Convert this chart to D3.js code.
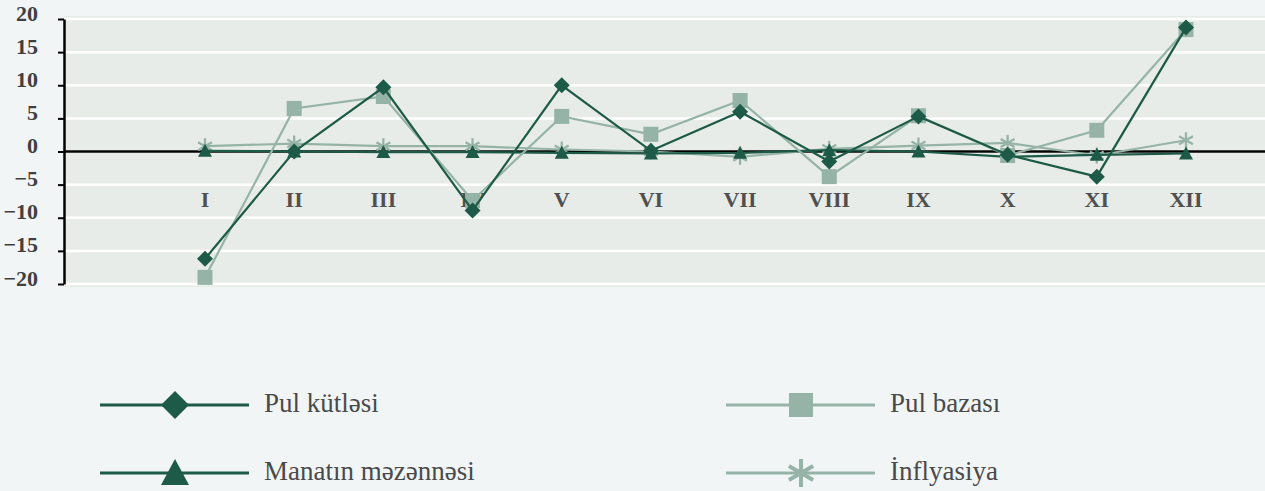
<!DOCTYPE html>
<html>
<head>
<meta charset="utf-8">
<script src="https://cdn.jsdelivr.net/npm/d3@7"></script>
<style>
  body { margin: 0; background: #f2f5f6; }
  svg { display: block; }
</style>
</head>
<body>
<div id="chart"></div>
<script>
// months (roman numerals)
const months = ['I', 'II', 'III', 'IV', 'V', 'VI', 'VII', 'VIII', 'IX', 'X', 'XI', 'XII'];
const yTicks = [-20, -15, -10, -5, 0, 5, 10, 15, 20];

// series values, % change
const pulKutlesi = [-16.2, 0.0, 9.7, -8.9, 10.0, 0.1, 6.0, -1.5, 5.3, -0.5, -3.8, 18.7];
const pulBazasi = [-19.0, 6.5, 8.3, -7.4, 5.3, 2.6, 7.7, -3.8, 5.4, -0.6, 3.2, 18.4];
const manat = [0.1, 0.0, -0.1, -0.1, -0.2, -0.3, -0.2, 0.2, 0.0, -0.8, -0.5, -0.3];
const inflyasiya = [0.8, 1.2, 0.8, 0.8, 0.3, 0.0, -0.8, 0.4, 0.9, 1.3, -0.6, 1.7];

const dark = '#1d5a47';
const light = '#95b3a7';

const series = [
  { name: 'Pul kütləsi', values: pulKutlesi, color: dark, marker: 'diamond' },
  { name: 'Pul bazası', values: pulBazasi, color: light, marker: 'square' },
  { name: 'Manatın məzənnəsi', values: manat, color: dark, marker: 'triangle' },
  { name: 'İnflyasiya', values: inflyasiya, color: light, marker: 'star' }
];

const width = 1265, height = 491;
const plot = { left: 64, right: 1265, top: 16, bottom: 287 };

const svg = d3.select('#chart')
  .append('svg')
  .attr('width', width)
  .attr('height', height);

const x = d3.scalePoint()
  .domain(months)
  .range([205, 1186]);

const y = d3.scaleLinear()
  .domain([-20, 20])
  .range([284, 19]);

// plot background
svg.append('rect')
  .attr('x', plot.left)
  .attr('y', plot.top)
  .attr('width', plot.right - plot.left)
  .attr('height', plot.bottom - plot.top)
  .attr('fill', '#e8ece9');

// gridlines
svg.append('g')
  .selectAll('line')
  .data(yTicks)
  .enter()
  .append('line')
  .attr('x1', plot.left)
  .attr('x2', plot.right)
  .attr('y1', d => y(d))
  .attr('y2', d => y(d))
  .attr('stroke', '#ffffff')
  .attr('stroke-width', 2.5);

// y axis
const yAxis = svg.append('g')
  .attr('transform', `translate(${plot.left},0)`)
  .call(d3.axisLeft(y).tickValues(yTicks).tickSize(6).tickSizeOuter(0).tickPadding(20));
yAxis.select('.domain').attr('stroke', '#000').attr('stroke-width', 2.5);
yAxis.selectAll('.tick line').attr('stroke', '#000').attr('stroke-width', 2);
yAxis.selectAll('.tick text')
  .attr('dy', 1)
  .attr('fill', '#404040')
  .style('font', 'bold 22px "Liberation Serif"');

// zero line
svg.append('line')
  .attr('x1', plot.left)
  .attr('x2', plot.right)
  .attr('y1', y(0))
  .attr('y2', y(0))
  .attr('stroke', '#000')
  .attr('stroke-width', 2.5);

// month labels
svg.append('g')
  .selectAll('text')
  .data(months)
  .enter()
  .append('text')
  .attr('x', d => x(d))
  .attr('y', 207)
  .attr('text-anchor', 'middle')
  .attr('fill', '#505050')
  .style('font', 'bold 22px "Liberation Serif"')
  .text(d => d);

function drawMarker(g, type, color, s) {
  if (type === 'diamond') {
    g.append('path').attr('d', `M0,${-s}L${s},0L0,${s}L${-s},0Z`).attr('fill', color);
  } else if (type === 'square') {
    g.append('rect').attr('x', -s).attr('y', -s).attr('width', 2 * s).attr('height', 2 * s).attr('fill', color);
  } else if (type === 'triangle') {
    g.append('path').attr('d', `M0,${-s}L${s},${s * 0.85}L${-s},${s * 0.85}Z`).attr('fill', color);
  } else {
    [0, 60, 120].forEach(a => {
      const r = a * Math.PI / 180;
      g.append('line')
        .attr('x1', -s * Math.sin(r)).attr('y1', -s * Math.cos(r))
        .attr('x2', s * Math.sin(r)).attr('y2', s * Math.cos(r))
        .attr('stroke', color).attr('stroke-width', Math.max(2, s / 3.5));
    });
  }
}

const line = d3.line()
  .x((d, i) => x(months[i]))
  .y(d => y(d));

const markerSize = { diamond: 8, square: 7.5, triangle: 7, star: 8 };
const drawOrder = [3, 2, 1, 0];
drawOrder.forEach(k => {
  const s = series[k];
  svg.append('path')
    .datum(s.values)
    .attr('d', line)
    .attr('fill', 'none')
    .attr('stroke', s.color)
    .attr('stroke-width', 2.2);
  s.values.forEach((v, i) => {
    const g = svg.append('g').attr('transform', `translate(${x(months[i])},${y(v)})`);
    drawMarker(g, s.marker, s.color, markerSize[s.marker]);
  });
});

// legend
const legendPos = [
  { lx: 100, ly: 405 },
  { lx: 726, ly: 405 },
  { lx: 100, ly: 473 },
  { lx: 726, ly: 473 }
];
series.forEach((s, k) => {
  const p = legendPos[k];
  const g = svg.append('g');
  g.append('line')
    .attr('x1', p.lx).attr('x2', p.lx + 149)
    .attr('y1', p.ly).attr('y2', p.ly)
    .attr('stroke', s.color).attr('stroke-width', 3);
  const m = g.append('g').attr('transform', `translate(${p.lx + 75},${p.ly})`);
  drawMarker(m, s.marker, s.color, s.marker === 'square' ? 12 : 14);
  g.append('text')
    .attr('x', p.lx + 164)
    .attr('y', p.ly + 7)
    .attr('fill', '#4a4a4a')
    .style('font', '27px "Liberation Serif"')
    .text(s.name);
});
</script>
</body>
</html>
